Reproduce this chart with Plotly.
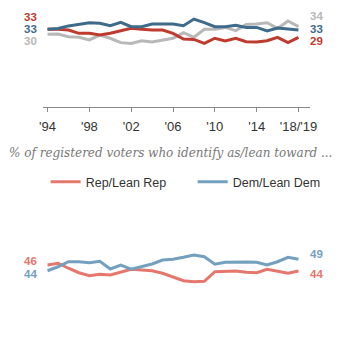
import plotly.graph_objects as go

years = list(range(1994, 2019))
tick_vals = [1994, 1998, 2002, 2006, 2010, 2014, 2018]
tick_text = ["'94", "'98", "'02", "'06", "'10", "'14", "'18/'19"]

# Top panel: party identification
dem_id = [33, 33.4, 34.8, 35.8, 36.5, 36.2, 34.9, 36.7, 34.4, 34.4, 35.8, 35.8, 35.8,
          34.9, 38.4, 36.5, 34.4, 34.4, 35.1, 34.0, 34.0, 32.1, 33.7, 33.2, 32.6]
rep_id = [33, 33, 32.6, 30.9, 30.9, 30.0, 30.9, 32.3, 33.5, 33, 32.6, 32.6, 30.9,
          27.9, 27.7, 25.6, 28.3, 26.9, 28.3, 26.5, 26.3, 27.0, 28.8, 26.0, 28.8]
ind_id = [30.4, 30.5, 29.1, 28.8, 27.4, 30.0, 28.3, 26.0, 25.6, 27.0, 26.3, 27.4, 28.3,
          31.2, 28.8, 33.0, 33.0, 34.0, 32.3, 35.5, 35.8, 36.5, 33.5, 37.4, 34.4]

# Bottom panel: identify as / lean toward
dem_lean = [44.1, 45.7, 47.7, 47.7, 47.3, 47.9, 44.8, 46.4, 44.7, 45.7, 46.8, 48.4, 48.7,
            49.5, 50.4, 49.7, 46.7, 47.5, 47.7, 47.6, 47.5, 46.4, 47.7, 49.5, 48.7]
rep_lean = [46.4, 47.1, 45.1, 43.3, 42.1, 42.7, 42.4, 43.7, 44.7, 44.4, 44.1, 43.1, 41.7,
            40.1, 39.7, 39.9, 43.7, 43.7, 44.0, 43.5, 43.3, 44.7, 43.9, 43.1, 44.0]

RED_D, BLUE_D, GRAY = "#bf3b2e", "#3f6b8b", "#b8b8b8"
RED_L, BLUE_L = "#e5776c", "#74a0bf"
W = H = 350

fig = go.Figure()
fig.add_trace(go.Scatter(x=years, y=ind_id, mode="lines", line=dict(color=GRAY, width=3),
                         xaxis="x", yaxis="y", showlegend=False, hoverinfo="skip"))
fig.add_trace(go.Scatter(x=years, y=rep_id, mode="lines", line=dict(color=RED_D, width=3),
                         xaxis="x", yaxis="y", showlegend=False, hoverinfo="skip"))
fig.add_trace(go.Scatter(x=years, y=dem_id, mode="lines", line=dict(color=BLUE_D, width=3),
                         xaxis="x", yaxis="y", showlegend=False, hoverinfo="skip"))
fig.add_trace(go.Scatter(x=years, y=rep_lean, mode="lines", line=dict(color=RED_L, width=3),
                         xaxis="x2", yaxis="y2", name="Rep/Lean Rep", hoverinfo="skip"))
fig.add_trace(go.Scatter(x=years, y=dem_lean, mode="lines", line=dict(color=BLUE_L, width=3),
                         xaxis="x2", yaxis="y2", name="Dem/Lean Dem", hoverinfo="skip"))

xrange = [1993.54, 2019.11]
xdom = [40 / W, 316 / W]

fig.update_layout(
    width=W, height=H, margin=dict(l=0, r=0, t=0, b=0),
    paper_bgcolor="white", plot_bgcolor="white",
    font=dict(family="Liberation Sans, Arial, sans-serif", color="#333333"),
    xaxis=dict(domain=xdom, range=xrange, anchor="y", showgrid=False, zeroline=False,
               showline=True, linecolor="#8a8a8a", linewidth=1,
               ticks="outside", ticklen=4, tickcolor="#8a8a8a",
               tickvals=tick_vals, ticktext=tick_text, ticklabelstandoff=3,
               tickfont=dict(size=13, color="#333333")),
    yaxis=dict(domain=[1 - 107 / H, 1], range=[-7.88, 48.44], visible=False),
    xaxis2=dict(domain=xdom, range=xrange, anchor="y2", visible=False),
    yaxis2=dict(domain=[10 / H, 130 / H], range=[16.4, 64.4], visible=False),
    legend=dict(orientation="h", x=43 / W, xanchor="left", y=1 - 182 / H, yanchor="middle",
                font=dict(size=12.5, color="#333333"), bgcolor="rgba(0,0,0,0)",
                entrywidth=102, entrywidthmode="pixels", tracegroupgap=0),
)

def lab(text, xpx, ypx, color, anchor):
    fig.add_annotation(text=text, x=xpx / W, y=1 - ypx / H, xref="paper", yref="paper",
                       xanchor=anchor, yanchor="middle", showarrow=False, borderpad=0,
                       font=dict(size=11.5, color=color, family="Liberation Sans, Arial, sans-serif"))

def b(v):
    return f"<b>{round(v)}</b>"

# top panel labels
lab(b(rep_id[0]), 35, 17, RED_D, "right")
lab(b(dem_id[0]), 35, 29, BLUE_D, "right")
lab(b(ind_id[0]), 35, 41, GRAY, "right")
lab(b(ind_id[-1]), 315, 16, GRAY, "left")
lab(b(dem_id[-1]), 315, 29, BLUE_D, "left")
lab(b(rep_id[-1]), 315, 41, RED_D, "left")
# bottom panel labels
lab(b(rep_lean[0]), 35, 261, RED_L, "right")
lab(b(dem_lean[0]), 35, 274, BLUE_L, "right")
lab(b(dem_lean[-1]), 315, 254, BLUE_L, "left")
lab(b(rep_lean[-1]), 315, 274, RED_L, "left")

fig.add_annotation(text="% of registered voters who identify as/lean toward ...",
                   x=4 / W, y=1 - 153 / H, xref="paper", yref="paper",
                   xanchor="left", yanchor="middle", showarrow=False, borderpad=0,
                   font=dict(size=12, color="#777777", family="DejaVu Serif, Georgia, serif",
                             style="italic"))

fig.write_html("out.html")
